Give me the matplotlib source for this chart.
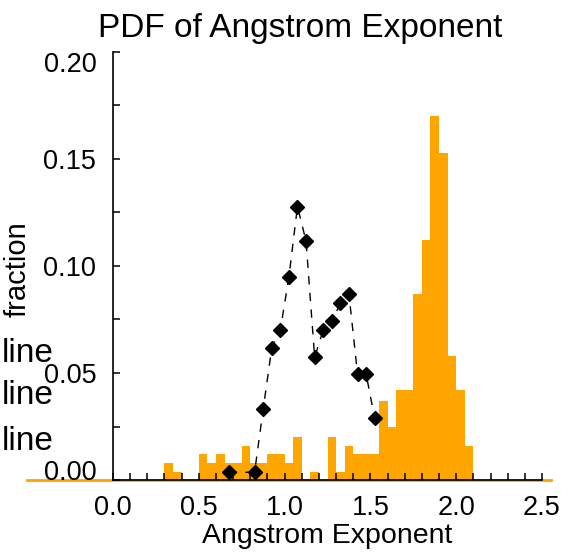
import numpy as np
import matplotlib
matplotlib.use("Agg")
import matplotlib.pyplot as plt
from matplotlib.ticker import MultipleLocator
from matplotlib.transforms import ScaledTranslation

plt.rcParams["font.family"] = ["Liberation Sans", "DejaVu Sans"]

# histogram (orange): left edge of each 0.05-wide bin and its fraction
bin_left = [0.30, 0.35, 0.40, 0.45, 0.50, 0.55, 0.60, 0.65, 0.70, 0.75,
            0.80, 0.85, 0.90, 0.95, 1.00, 1.05, 1.10, 1.15, 1.20, 1.25,
            1.30, 1.35, 1.40, 1.45, 1.50, 1.55, 1.60, 1.65, 1.70, 1.75,
            1.80, 1.85, 1.90, 1.95, 2.00, 2.05]
hist_frac = [0.008, 0.0036, 0.0, 0.0, 0.012, 0.008, 0.012, 0.008, 0.008, 0.016,
             0.008, 0.008, 0.012, 0.012, 0.008, 0.020, 0.0, 0.0036, 0.0, 0.020,
             0.0036, 0.016, 0.012, 0.012, 0.012, 0.037, 0.025, 0.042, 0.042, 0.087,
             0.112, 0.170, 0.153, 0.058, 0.042, 0.016]
bin_width = 0.05

# black diamonds
pt_x = [0.675, 0.825, 0.875, 0.925, 0.975, 1.025, 1.075, 1.125,
        1.175, 1.225, 1.275, 1.325, 1.375, 1.425, 1.475, 1.525]
pt_y = [0.0036, 0.0036, 0.033, 0.0616, 0.070, 0.0948, 0.1278, 0.1116,
        0.0574, 0.070, 0.0742, 0.0825, 0.0869, 0.0495, 0.0495, 0.0288]

fig = plt.figure(figsize=(5.7, 5.53), dpi=100)
ax = fig.add_axes([113/570, 73/553, 429/570, 428/553])

orange = "#FFA500"
ax.bar(bin_left, hist_frac, width=bin_width, align="edge", color=orange,
       linewidth=0, zorder=1)
# orange baseline of the histogram, runs past the axis
ax.plot([-0.5, 2.55], [0, 0], color=orange, lw=2, clip_on=False, zorder=1)

ax.plot(pt_x, pt_y, color="black", lw=1, linestyle=(0, (6, 6)),
        marker="D", markersize=7.5, zorder=3)

ax.set_xlim(0, 2.5)
ax.set_ylim(0, 0.20)
ax.spines["top"].set_visible(False)
ax.spines["right"].set_visible(False)
ax.spines["left"].set_linewidth(1.2)
ax.spines["bottom"].set_linewidth(1.2)
ax.spines["left"].set_zorder(2)
ax.spines["bottom"].set_zorder(2)

ax.xaxis.set_major_locator(MultipleLocator(0.5))
ax.xaxis.set_minor_locator(MultipleLocator(0.1))
ax.yaxis.set_major_locator(MultipleLocator(0.05))
ax.yaxis.set_minor_locator(MultipleLocator(0.025))
ax.xaxis.set_major_formatter(lambda v, p: f"{v:.1f}")
ax.yaxis.set_major_formatter(lambda v, p: f"{v:.2f}")
ax.tick_params(which="both", direction="in", length=5, width=1.1,
               top=False, right=False)
ax.tick_params(axis="x", which="major", labelsize=19.5, pad=11)
ax.tick_params(axis="y", which="major", labelsize=19.5, pad=12)

# nudge the end y labels inward like the original
ylabels = ax.get_yticklabels()
for lab in ylabels:
    if lab.get_text() == "0.00":
        lab.set_transform(lab.get_transform() + ScaledTranslation(0, 7/72, fig.dpi_scale_trans))
    if lab.get_text() == "0.20":
        lab.set_transform(lab.get_transform() + ScaledTranslation(0, -7/72, fig.dpi_scale_trans))

ax.set_xlabel("Angstrom Exponent", fontsize=20.5, labelpad=1)
fig.text(18/570, 1 - 269/553, "fraction", rotation=90, fontsize=21,
         ha="center", va="center")
fig.text(300/570, 1 - 37/553, "PDF of Angstrom Exponent", fontsize=24,
         ha="center", va="baseline")

for yb in [362, 404, 450]:
    fig.text(2/570, 1 - yb/553, "line", fontsize=24, ha="left", va="baseline")

fig.savefig("out.png", dpi=100)
